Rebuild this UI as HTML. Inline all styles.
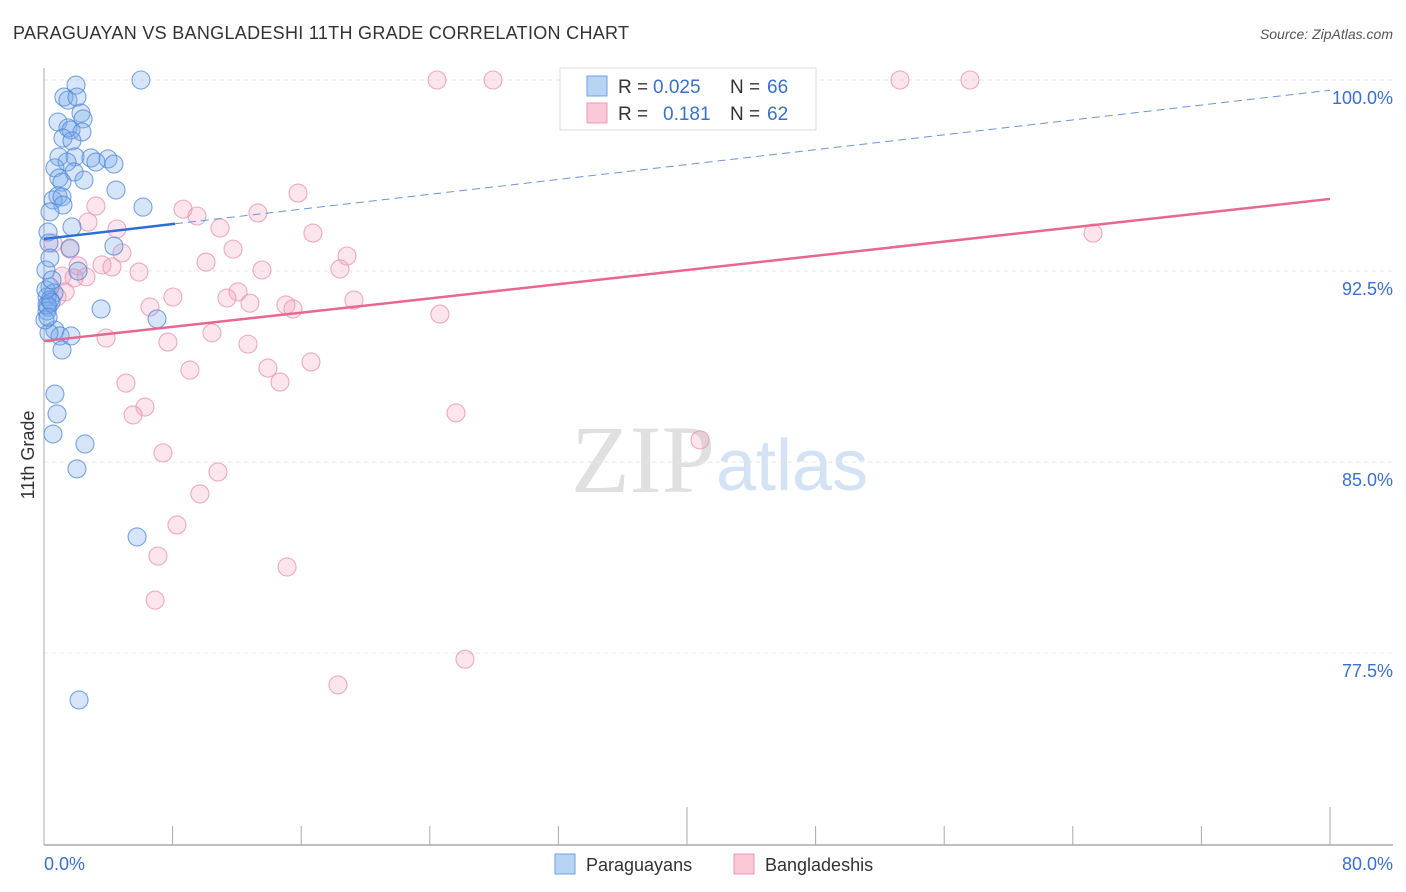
<!DOCTYPE html>
<html><head><meta charset="utf-8"><style>
body{margin:0;background:#fff;font-family:"Liberation Sans",sans-serif;}
svg{display:block}
</style></head><body>
<svg width="1406" height="892" id="chart">
<text x="13" y="39" font-size="18" letter-spacing="0.3" fill="#333">PARAGUAYAN VS BANGLADESHI 11TH GRADE CORRELATION CHART</text>
<text x="1393" y="39" font-size="14" font-style="italic" fill="#555" text-anchor="end">Source: ZipAtlas.com</text>
<text x="715" y="492" font-size="96" font-family="Liberation Serif,serif" fill="#e0e0e0" text-anchor="end">ZIP</text>
<text x="716" y="490" font-size="72" fill="#d3e2f4">atlas</text>
<g id="grid"></g>
<g id="axes"></g>
<g id="pts"></g>
<g id="trends"></g>
<text transform="translate(34,455) rotate(-90)" font-size="18" fill="#333" text-anchor="middle">11th Grade</text>
<g>
<rect x="560" y="68" width="256" height="62" fill="#fff" stroke="#ddd"/>
<rect x="587" y="76" width="20" height="20" fill="#b8d4f5" stroke="#6fa0e0"/>
<rect x="587" y="103" width="20" height="20" fill="#fbc8d7" stroke="#ec9ab5"/>
<text x="618" y="93" font-size="19" fill="#333">R =</text>
<text x="653" y="93" font-size="19" fill="#3a6fcf">0.025</text>
<text x="730" y="93" font-size="19" fill="#333">N =</text>
<text x="767" y="93" font-size="19" fill="#3a6fcf">66</text>
<text x="618" y="120" font-size="19" fill="#333">R =</text>
<text x="663" y="120" font-size="19" fill="#3a6fcf">0.181</text>
<text x="730" y="120" font-size="19" fill="#333">N =</text>
<text x="767" y="120" font-size="19" fill="#3a6fcf">62</text>
</g>
<text x="44" y="870" font-size="18" fill="#3a6fcf">0.0%</text>
<text x="1393" y="870" font-size="18" fill="#3a6fcf" text-anchor="end">80.0%</text>
<rect x="555" y="854" width="20" height="20" fill="#b8d4f5" stroke="#6fa0e0"/>
<text x="586" y="871" font-size="18" fill="#333">Paraguayans</text>
<rect x="734" y="854" width="20" height="20" fill="#fbc8d7" stroke="#ec9ab5"/>
<text x="765" y="871" font-size="18" fill="#333">Bangladeshis</text>
</svg>
<script>
const yTicks=[100,92.5,85,77.5];
const yTickLabels=["100.0%","92.5%","85.0%","77.5%"];
const xTicks=[0,8,16,24,32,40,48,56,64,72,80];
const paraX=[6.03,1.99,1.24,1.49,2.05,2.30,2.43,0.87,1.49,1.68,2.36,1.18,1.74,0.93,1.93,2.92,3.98,1.43,3.23,4.35,0.68,1.87,0.93,1.12,2.49,4.48,0.87,0.56,1.12,1.18,6.16,0.37,1.74,0.25,0.31,1.62,4.35,0.37,0.12,2.12,0.37,0.62,0.19,0.37,0.25,0.19,3.55,7.03,0.68,1.00,1.68,0.31,1.12,0.68,0.81,0.56,2.55,2.05,5.79,2.18,0.06,0.19,0.44,0.12,0.25,0.50];
const paraY=[100.0,99.80,99.33,99.21,99.33,98.70,98.47,98.35,98.12,98.04,97.96,97.72,97.61,96.98,96.98,96.94,96.90,96.78,96.78,96.70,96.55,96.39,96.15,95.99,96.07,95.68,95.45,95.29,95.41,95.09,95.01,94.82,94.23,94.03,93.60,93.40,93.48,93.01,92.54,92.50,91.87,91.64,91.48,91.36,91.09,90.93,91.01,90.62,90.18,89.95,89.95,90.07,89.40,87.67,86.89,86.10,85.71,84.73,82.06,75.66,90.58,91.17,91.28,91.76,90.69,92.15];
const bangX=[24.45,27.93,53.25,57.60,15.80,3.23,8.65,9.52,13.31,2.74,10.95,4.54,16.73,65.26,0.56,1.62,11.76,4.85,18.85,10.08,2.12,3.61,4.23,13.56,5.91,18.41,1.12,2.61,1.87,1.31,0.81,12.07,11.38,8.02,19.28,12.81,15.05,15.49,6.59,24.63,10.45,3.86,7.71,12.69,16.61,9.08,13.93,5.10,14.68,6.28,5.54,25.63,40.81,7.40,10.82,9.70,8.27,7.09,15.12,6.91,26.19,18.29];
const bangY=[100.0,100.0,100.0,100.0,95.56,95.05,94.93,94.66,94.78,94.42,94.19,94.15,93.99,93.99,93.60,93.36,93.36,93.21,93.09,92.85,92.70,92.74,92.66,92.54,92.46,92.58,92.30,92.27,92.23,91.68,91.48,91.68,91.44,91.48,91.36,91.24,91.17,91.01,91.09,90.81,90.07,89.87,89.71,89.63,88.93,88.61,88.69,88.10,88.14,87.16,86.85,86.93,85.87,85.36,84.61,83.75,82.53,81.31,80.88,79.58,77.26,76.25];
const paraTrend=[93.76,99.6];
const paraSolidEnd=8.15;
const bangTrend=[89.75,95.33];
const NS="http://www.w3.org/2000/svg";
const sx=v=>44+v*(1330-44)/80;
const sy=v=>80+(100-v)*25.47;
function mk(tag,attrs,parent){const e=document.createElementNS(NS,tag);for(const k in attrs)e.setAttribute(k,attrs[k]);document.getElementById(parent).appendChild(e);return e;}
yTicks.forEach((t,i)=>{
 const l=mk('line',{x1:44,x2:1393,y1:sy(t),y2:sy(t),stroke:'#e6e6e6','stroke-dasharray':'4,4'},'grid');
 
 
 const tx=mk('text',{x:1393,y:sy(t)+24,'font-size':18,fill:'#3a6fcf','text-anchor':'end'},'grid');
 tx.textContent=yTickLabels[i];
 
 
});
const ax=mk('line',{x1:44,x2:44,y1:68,y2:845,stroke:'#aaa'},'axes');


const bx=mk('line',{x1:44,x2:1393,y1:845,y2:845,stroke:'#aaa','stroke-width':1.5},'axes');


xTicks.forEach((t,i)=>{
 const big=(i===5||i===10);
 const l=mk('line',{x1:sx(t),x2:sx(t),y1:big?807:826,y2:845,stroke:'#aaa'},'axes');
 
 
});
bangX.forEach((x,i)=>{
 const c=mk('circle',{cx:sx(x),cy:sy(bangY[i]),r:9,fill:'rgba(243,160,188,0.28)',stroke:'rgba(232,150,180,0.8)','stroke-width':1.1},'pts');
 
 
});
paraX.forEach((x,i)=>{
 const c=mk('circle',{cx:sx(x),cy:sy(paraY[i]),r:9,fill:'rgba(120,170,235,0.3)',stroke:'rgba(80,135,215,0.75)','stroke-width':1.1},'pts');
 
 
});
const pv=x=>paraTrend[0]+(paraTrend[1]-paraTrend[0])*x/80;
const t1=mk('line',{x1:sx(0),y1:sy(paraTrend[0]),x2:sx(paraSolidEnd),y2:sy(pv(paraSolidEnd)),stroke:'#2b6fd6','stroke-width':2.5},'trends');


const t2=mk('line',{x1:sx(paraSolidEnd),y1:sy(pv(paraSolidEnd)),x2:sx(80),y2:sy(paraTrend[1]),stroke:'#6a95d8','stroke-width':1,'stroke-dasharray':'8,5'},'trends');


const t3=mk('line',{x1:sx(0),y1:sy(bangTrend[0]),x2:sx(80),y2:sy(bangTrend[1]),stroke:'#e8678f','stroke-width':2.5},'trends');


</script>
</body></html>
